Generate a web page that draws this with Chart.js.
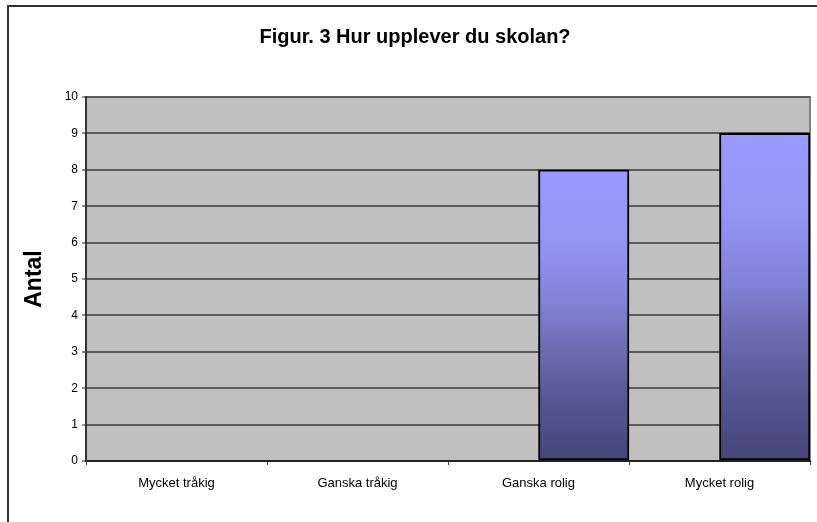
<!DOCTYPE html>
<html>
<head>
<meta charset="utf-8">
<script src="https://cdn.jsdelivr.net/npm/chart.js@4"></script>
<style>
    html, body { margin: 0; padding: 0; background: #fff; overflow: hidden; }
    #frame { position: absolute; left: 7px; top: 5px; width: 830px; height: 540px; border: 2px solid #333; }
    #chart { position: absolute; left: 0; top: 0; }
</style>
</head>
<body>
<div id="frame"></div>
<canvas id="chart" width="817" height="522"></canvas>
<script>
// Data
const categories = ['Mycket tråkig', 'Ganska tråkig', 'Ganska rolig', 'Mycket rolig'];
const emptySeries = [null, null, null, null];   // first series in the original sheet has no values
const antal = [0, 0, 8, 9];
const yTicks = [0, 1, 2, 3, 4, 5, 6, 7, 8, 9, 10];

// Gray plot area with a gray top/right edge
const plotBackground = {
    id: 'plotBackground',
    beforeDraw(chart) {
        const { ctx, chartArea: a } = chart;
        ctx.save();
        ctx.fillStyle = '#C0C0C0';
        ctx.fillRect(a.left, a.top, a.right - a.left, a.bottom - a.top);
        ctx.strokeStyle = '#808080';
        ctx.lineWidth = 2;
        ctx.beginPath();
        ctx.moveTo(a.left, a.top);
        ctx.lineTo(a.right, a.top);
        ctx.lineTo(a.right, a.bottom);
        ctx.stroke();
        ctx.restore();
    }
};

// Vertical gradient per bar, light at the top and dark at the base
function barGradient(context) {
    const chart = context.chart;
    const y = chart.scales.y;
    if (!context.raw) return 'rgba(0,0,0,0)';
    if (!chart.chartArea || !y) return '#9999FF';
    const top = y.getPixelForValue(context.raw);
    const bottom = y.getPixelForValue(0);
    const g = chart.ctx.createLinearGradient(0, top, 0, bottom);
    g.addColorStop(0, '#9A9AFF');
    g.addColorStop(0.25, '#9494F4');
    g.addColorStop(0.45, '#8282D8');
    g.addColorStop(0.6, '#6E6EB4');
    g.addColorStop(0.8, '#555592');
    g.addColorStop(1, '#45457A');
    return g;
}

new Chart(document.getElementById('chart'), {
    type: 'bar',
    data: {
        labels: categories,
        datasets: [
            {
                label: 'Serie1',
                data: emptySeries,
                backgroundColor: '#9999FF',
                borderWidth: 0
            },
            {
                label: 'Antal',
                data: antal,
                backgroundColor: barGradient,
                borderColor: '#000',
                borderWidth: (c) => (c.raw > 0 ? 2 : 0),
                borderSkipped: false
            }
        ]
    },
    options: {
        responsive: false,
        animation: false,
        layout: { padding: { left: 20, right: 7, top: 0, bottom: 0 } },
        datasets: {
            bar: { barPercentage: 1, categoryPercentage: 1 }
        },
        plugins: {
            legend: { display: false },
            tooltip: { enabled: false },
            title: {
                display: true,
                text: 'Figur. 3 Hur upplever du skolan?',
                color: '#000',
                font: { family: 'Liberation Sans, Arial, sans-serif', size: 20, weight: 'bold' },
                padding: { top: 25, bottom: 48 }
            }
        },
        scales: {
            x: {
                afterFit: (s) => { s.height = 61; },
                grid: {
                    offset: true,
                    drawOnChartArea: false,
                    drawTicks: true,
                    tickLength: 4,
                    tickColor: '#444',
                    tickWidth: 1
                },
                border: { display: true, color: '#222', width: 2 },
                ticks: {
                    color: '#000',
                    padding: 11,
                    maxRotation: 0,
                    font: { family: 'Liberation Sans, Arial, sans-serif', size: 13 }
                }
            },
            y: {
                min: 0,
                max: 10,
                afterFit: (s) => { s.width = 66; },
                afterBuildTicks: (s) => { s.ticks = yTicks.map((v) => ({ value: v })); },
                grid: {
                    color: '#5C5C5C',
                    lineWidth: 2,
                    tickLength: 4,
                    tickColor: '#222',
                    tickWidth: 1
                },
                border: { display: true, color: '#333', width: 2 },
                ticks: {
                    color: '#000',
                    padding: 4,
                    font: { family: 'Liberation Sans, Arial, sans-serif', size: 12 }
                },
                title: {
                    display: true,
                    text: 'Antal',
                    color: '#000',
                    font: { family: 'Liberation Sans, Arial, sans-serif', size: 23, weight: 'bold' },
                    padding: { top: 1, bottom: 0 }
                }
            }
        }
    },
    plugins: [plotBackground]
});
</script>
</body>
</html>
